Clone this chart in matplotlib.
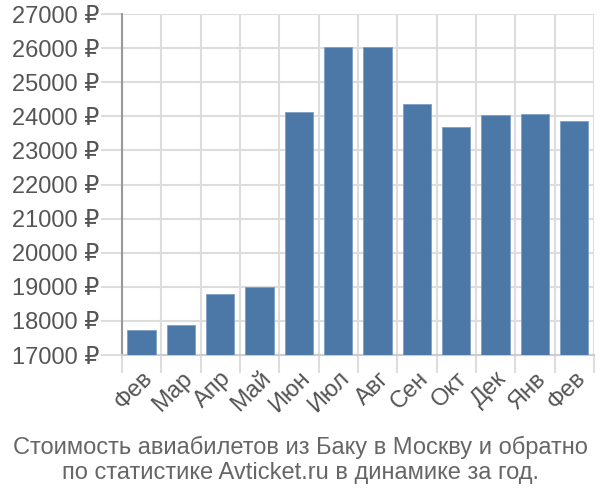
import numpy as np
import matplotlib.pyplot as plt

# data
months = ["Фев", "Мар", "Апр", "Май", "Июн", "Июл", "Авг", "Сен", "Окт", "Дек", "Янв", "Фев"]
prices = [17730, 17890, 18800, 18980, 24120, 26040, 26020, 24350, 23680, 24030, 24070, 23860]
y_ticks = list(range(17000, 27001, 1000))

plt.rcParams['font.family'] = ['Liberation Sans', 'DejaVu Sans']

fig = plt.figure(figsize=(6, 5), dpi=100)
ax = fig.add_axes([0.203, 0.29, 0.787, 0.682])

x = np.arange(len(months))
ax.bar(x, prices, width=0.72, color="#4c78a8", edgecolor="#7f9fc4", linewidth=0.6, zorder=3)

ax.set_xlim(-0.5, len(months) - 0.5)
ax.set_ylim(17000, 27000)
ax.set_yticks(y_ticks)
ax.set_yticklabels([f"{v} ₽" for v in y_ticks])
ax.set_xticks(x)
ax.set_xticklabels(months, rotation=45, ha="right", rotation_mode="anchor")

# vertical grid between categories, ticks hanging below
ax.set_xticks(np.arange(-0.5, len(months)), minor=True)
ax.grid(True, which="minor", axis="x", color="#dddddd", linewidth=1.5, zorder=0)
ax.grid(True, which="major", axis="y", color="#dddddd", linewidth=1.5, zorder=0)

ax.tick_params(axis="x", which="major", length=0, pad=9, labelsize=17, labelcolor="#555555")
ax.tick_params(axis="x", which="minor", length=13, width=1.5, color="#dddddd")
ax.tick_params(axis="y", which="major", length=15, width=1.5, color="#dddddd",
               pad=1, labelsize=17, labelcolor="#555555")

for side in ["top", "right"]:
    ax.spines[side].set_visible(False)
ax.spines["left"].set_color("#999999")
ax.spines["left"].set_linewidth(1.5)
ax.spines["bottom"].set_color("#cccccc")
ax.spines["bottom"].set_linewidth(1.5)

fig.text(0.5, 0.106, "Стоимость авиабилетов из Баку в Москву и обратно",
         ha="center", va="center", fontsize=17, color="#666666")
fig.text(0.5, 0.053, "по статистике Avticket.ru в динамике за год.",
         ha="center", va="center", fontsize=17, color="#666666")

fig.savefig("out.png", dpi=100)
